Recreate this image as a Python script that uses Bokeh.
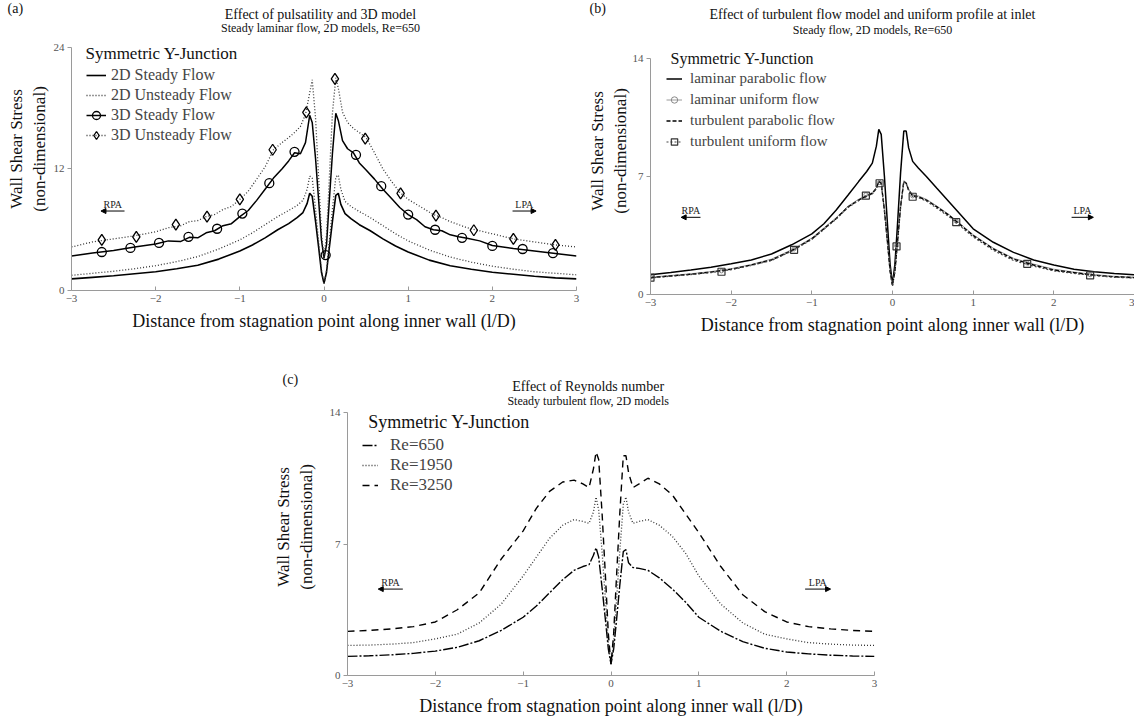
from bokeh.plotting import figure
from bokeh.models import (Range1d, FixedTicker, Legend, LegendItem, Title, Label,
                          Arrow, NormalHead, Spacer)
from bokeh.layouts import row, column
from bokeh.embed import file_html
from bokeh.resources import INLINE

FONT = "Liberation Serif"

# ---------------- data ----------------
x_ticks = [-3, -2, -1, 0, 1, 2, 3]
x_grid = [-3.0, -2.75, -2.5, -2.25, -2.0, -1.75, -1.5, -1.25, -1.0, -0.85, -0.7, -0.55,
          -0.42, -0.32, -0.25, -0.2, -0.17, -0.14, -0.1, -0.06, -0.03, 0.0, 0.03, 0.06,
          0.1, 0.14, 0.17, 0.2, 0.25, 0.32, 0.42, 0.55, 0.7, 0.85, 1.0, 1.25, 1.5, 1.75,
          2.0, 2.25, 2.5, 2.75, 3.0]
x_grid_3d = [-3.0, -2.75, -2.5, -2.25, -2.0, -1.85, -1.7, -1.6, -1.5, -1.4, -1.3, -1.2,
             -1.1, -1.0, -0.9, -0.8, -0.7, -0.6, -0.5, -0.42, -0.35, -0.28, -0.22, -0.17,
             -0.14, -0.1, -0.06, -0.03, 0.0, 0.03, 0.06, 0.1, 0.14, 0.17, 0.22, 0.28, 0.35,
             0.42, 0.5, 0.6, 0.7, 0.8, 0.9, 1.0, 1.1, 1.2, 1.3, 1.4, 1.5, 1.6, 1.7, 1.85,
             2.0, 2.25, 2.5, 2.75, 3.0]

# panel (a)
a_2d_steady = [1.15, 1.3, 1.45, 1.65, 1.85, 2.15, 2.5, 3.1, 3.9, 4.5, 5.2, 6.0,
               6.6, 7.2, 7.7, 8.6, 9.6, 9.3, 6.8, 4.0, 1.8, 0.7, 1.8, 4.0,
               6.8, 9.4, 9.6, 8.5, 7.6, 7.1, 6.5, 5.9, 5.1, 4.4, 3.8, 3.0, 2.45, 2.1,
               1.8, 1.6, 1.4, 1.25, 1.15]
a_2d_unsteady = [1.5, 1.7, 1.9, 2.15, 2.45, 2.85, 3.35, 4.1, 5.0, 5.7, 6.5, 7.3,
                 7.9, 8.4, 8.9, 10.0, 11.3, 11.1, 8.0, 4.5, 2.0, 0.6, 2.0, 4.5,
                 8.0, 11.2, 11.4, 10.0, 8.8, 8.3, 7.8, 7.2, 6.4, 5.6, 4.9, 4.0, 3.3, 2.8,
                 2.4, 2.1, 1.85, 1.7, 1.55]
a_3d_steady = [3.4, 3.7, 3.95, 4.3, 4.6, 4.9, 4.85, 5.25, 5.2, 5.7, 5.9, 6.4,
               6.6, 7.3, 7.9, 8.9, 10.0, 11.1, 12.0, 12.8, 13.6, 13.5, 14.6, 17.3,
               16.6, 13.0, 8.5, 5.0, 3.2, 4.5, 8.5, 13.5, 17.5, 16.8, 14.8, 14.0, 13.6,
               12.6, 11.9, 11.0, 10.0, 9.1, 8.2, 7.5, 7.0, 6.3, 6.0, 5.9, 5.5, 5.3, 5.15, 4.9,
               4.45, 4.15, 3.9, 3.65, 3.4]
a_3d_unsteady = [4.3, 4.8, 5.1, 5.4, 5.8, 6.2, 6.4, 6.8, 6.9, 7.3, 7.5, 8.0,
                 8.3, 9.0, 9.8, 11.0, 12.2, 13.9, 14.6, 15.1, 15.6, 16.2, 17.4, 19.5,
                 20.8, 17.0, 10.5, 5.5, 3.3, 5.5, 10.5, 17.5, 21.0, 20.0, 17.6, 16.6, 16.0,
                 15.6, 15.1, 13.6, 12.0, 10.8, 9.7, 9.0, 8.5, 8.0, 7.5, 7.2, 6.8, 6.5, 6.2, 5.9,
                 5.6, 5.1, 4.8, 4.5, 4.3]
a_3ds_mx = [-2.64, -2.30, -1.96, -1.61, -1.27, -0.97, -0.65, -0.35, 0.02, 0.38, 0.68,
            1.0, 1.32, 1.64, 2.0, 2.36, 2.72]
a_3ds_my = [3.8, 4.2, 4.7, 5.3, 6.1, 7.6, 10.6, 13.7, 3.5, 13.4, 10.3,
            7.5, 6.0, 5.2, 4.4, 4.1, 3.7]
a_3du_mx = [-2.64, -2.23, -1.76, -1.39, -1.0, -0.61, -0.21, 0.13, 0.49, 0.91, 1.33,
            1.78, 2.25, 2.75]
a_3du_my = [5.0, 5.3, 6.5, 7.3, 9.0, 13.9, 17.6, 20.9, 15.0, 9.6, 7.4,
            5.95, 5.1, 4.5]

# panel (b)
b_lam_par = [1.17, 1.3, 1.45, 1.62, 1.82, 2.05, 2.4, 2.95, 3.6, 4.2, 5.0, 5.9,
             6.7, 7.3, 7.8, 8.8, 9.8, 9.5, 7.0, 4.0, 1.8, 0.6, 1.8, 4.0,
             7.2, 9.7, 9.7, 8.7, 7.9, 7.5, 7.0, 6.3, 5.5, 4.7, 3.9, 3.1, 2.5, 2.05,
             1.75, 1.5, 1.35, 1.25, 1.17]
b_lam_uni = [1.03, 1.13, 1.23, 1.36, 1.53, 1.78, 2.1, 2.65, 3.35, 3.95, 4.55, 5.25,
             5.65, 5.9, 6.05, 6.35, 6.75, 6.65, 5.0, 3.0, 1.4, 0.55, 1.4, 3.0,
             5.2, 6.75, 6.65, 6.25, 5.9, 5.85, 5.65, 5.25, 4.75, 4.15, 3.55, 2.75, 2.15, 1.8,
             1.5, 1.33, 1.18, 1.08, 1.03]
b_turb_par = [1.0, 1.1, 1.2, 1.33, 1.5, 1.75, 2.05, 2.6, 3.3, 3.9, 4.5, 5.2,
              5.6, 5.85, 6.0, 6.3, 6.7, 6.6, 5.0, 3.0, 1.4, 0.55, 1.4, 3.0,
              5.2, 6.7, 6.6, 6.2, 5.85, 5.8, 5.6, 5.2, 4.7, 4.1, 3.5, 2.7, 2.1, 1.75,
              1.45, 1.3, 1.15, 1.05, 1.0]
b_turb_uni = [0.98, 1.08, 1.18, 1.3, 1.47, 1.72, 2.02, 2.57, 3.27, 3.87, 4.47, 5.17,
              5.57, 5.82, 5.97, 6.27, 6.67, 6.57, 4.95, 2.95, 1.35, 0.5, 1.35, 2.95,
              5.15, 6.67, 6.57, 6.17, 5.82, 5.75, 5.55, 5.12, 4.62, 4.02, 3.42, 2.62, 2.02, 1.68,
              1.4, 1.25, 1.12, 1.02, 0.98]
b_mk_x = [-3.0, -2.12, -1.22, -0.33, -0.16, 0.05, 0.25, 0.79, 1.67, 2.45]
b_sq_y = [1.0, 1.35, 2.65, 5.87, 6.6, 2.85, 5.8, 4.29, 1.82, 1.13]
b_ci_y = [1.03, 1.4, 2.7, 5.92, 6.65, 2.9, 5.85, 4.35, 1.87, 1.17]

# panel (c)
c_re650 = [1.02, 1.05, 1.1, 1.18, 1.3, 1.5, 1.85, 2.4, 3.1, 3.7, 4.4, 5.1,
           5.6, 5.8, 5.9, 6.4, 6.8, 6.3, 4.6, 2.8, 1.4, 0.6, 1.4, 2.8,
           4.8, 6.6, 6.7, 6.0, 5.75, 5.7, 5.6, 5.2, 4.6, 3.9, 3.1, 2.35, 1.8, 1.45,
           1.25, 1.15, 1.08, 1.04, 1.02]
c_re1950 = [1.6, 1.62, 1.67, 1.75, 1.95, 2.2, 2.8, 3.8, 5.3, 6.3, 7.3, 8.0,
            8.3, 8.2, 8.1, 8.7, 9.5, 8.8, 6.5, 3.8, 1.7, 0.6, 1.7, 3.8,
            6.6, 9.1, 9.5, 8.7, 8.1, 8.2, 8.3, 8.0, 7.4, 6.5, 5.3, 3.8, 2.8, 2.2,
            1.95, 1.75, 1.67, 1.62, 1.6]
c_re3250 = [2.35, 2.4, 2.48, 2.6, 2.85, 3.5, 4.4, 6.2, 7.7, 8.9, 9.8, 10.3,
            10.4, 10.2, 10.0, 11.0, 11.9, 11.5, 8.5, 5.0, 2.2, 0.6, 2.2, 5.0,
            8.6, 11.7, 11.7, 10.8, 10.0, 10.2, 10.5, 10.2, 9.6, 8.6, 7.6, 5.8, 4.3, 3.4,
            2.85, 2.6, 2.48, 2.4, 2.35]

XLABEL = "Distance from stagnation point along inner wall (l/D)"
YLABEL = "Wall Shear Stress\n(non-dimensional)"
LEG_TITLE = "Symmetric Y-Junction"


def make_panel(width, height, bl, br, bt, bb, ytop, ymax, yticks, ylab_standoff):
    p = figure(width=width, height=height, output_backend="svg", toolbar_location=None,
               x_range=Range1d(-3, 3), y_range=Range1d(0, ytop), title=None,
               min_border_left=bl, min_border_right=br, min_border_top=bt,
               min_border_bottom=bb, background_fill_color="white",
               border_fill_color="white")
    if "frame_align" in type(p).properties():
        p.frame_align = False
    p.outline_line_color = None
    p.xgrid.visible = False
    p.ygrid.visible = False
    p.xaxis.ticker = FixedTicker(ticks=x_ticks)
    p.yaxis.ticker = FixedTicker(ticks=yticks)
    p.yaxis.bounds = (0, ymax)
    for ax in p.axis:
        ax.axis_line_color = "#9a9a9a"
        ax.major_tick_line_color = "#9a9a9a"
        ax.minor_tick_line_color = None
        ax.major_label_text_font = FONT
        ax.major_label_text_font_size = "11px"
        ax.major_label_text_color = "#555555"
        ax.axis_label_text_font = FONT
        ax.axis_label_text_font_size = "18px"
        ax.axis_label_text_font_style = "normal"
        ax.axis_label_text_color = "#111111"
    p.xaxis.major_tick_in = 4
    p.xaxis.major_tick_out = 0
    p.xaxis.major_label_standoff = 4
    p.xaxis.axis_label_standoff = 6
    p.yaxis.major_tick_in = 0
    p.yaxis.major_tick_out = 4
    p.yaxis.major_label_standoff = 3
    p.yaxis.axis_label_standoff = ylab_standoff
    p.yaxis.axis_label_text_font_size = "17px"
    p.xaxis.axis_label = XLABEL
    p.yaxis.axis_label = YLABEL
    return p


def add_titles(p, x, y_main, y_sub, main, sub):
    p.add_layout(Label(x=x, y=y_main, text=main, text_font=FONT, text_font_size="14px",
                       text_align="center", text_baseline="middle", text_color="#111111"))
    p.add_layout(Label(x=x, y=y_sub, text=sub, text_font=FONT, text_font_size="12px",
                       text_align="center", text_baseline="middle", text_color="#111111"))


def add_letter(p, txt, offset):
    p.add_layout(Title(text=txt, align="left", offset=offset, vertical_align="bottom",
                       standoff=-17, text_font=FONT, text_font_size="14px",
                       text_font_style="normal", text_color="#111111"), "above")


def add_side_arrows(p, y_text, y_arrow, rpa, lpa):
    for (x0, x1), txt in ((rpa, "RPA"), (lpa, "LPA")):
        p.add_layout(Label(x=(x0 + x1) / 2, y=y_text, text=txt, text_font=FONT,
                           text_font_size="10px", text_align="center",
                           text_baseline="middle", text_color="#222222"))
    p.add_layout(Arrow(end=NormalHead(size=5, fill_color="black", line_color="black"),
                       x_start=rpa[1], y_start=y_arrow, x_end=rpa[0], y_end=y_arrow,
                       line_width=1, line_color="black"))
    p.add_layout(Arrow(end=NormalHead(size=5, fill_color="black", line_color="black"),
                       x_start=lpa[0], y_start=y_arrow, x_end=lpa[1], y_end=y_arrow,
                       line_width=1, line_color="black"))


def add_legend(p, items, title_xy, title_size, label_size, row_h, glyph_w, standoff, loc):
    p.add_layout(Label(x=title_xy[0], y=title_xy[1], text=LEG_TITLE, text_font=FONT,
                       text_font_size=title_size, text_baseline="middle",
                       text_color="#111111"))
    p.add_layout(Legend(items=items, location=loc, border_line_color=None,
                        background_fill_alpha=0.0, label_text_font=FONT,
                        label_text_font_size=label_size, glyph_width=glyph_w,
                        glyph_height=row_h, label_height=row_h, label_standoff=standoff,
                        spacing=0, padding=0, margin=0))


# ---------------- panel (a) ----------------
pa = make_panel(584, 340, 71, 8, 7, 50, 27.95, 24, [0, 12, 24], 2)
r1 = pa.line(x_grid, a_2d_steady, line_color="black", line_width=1.6)
r2 = pa.line(x_grid, a_2d_unsteady, line_color="#333333", line_width=1.3, line_dash="1 2")
r3 = pa.line(x_grid_3d, a_3d_steady, line_color="black", line_width=1.5)
r3m = pa.scatter(a_3ds_mx, a_3ds_my, marker="circle", size=9, fill_color=None,
                 line_color="black", line_width=1.3)
r4 = pa.line(x_grid_3d, a_3d_unsteady, line_color="#333333", line_width=1.3, line_dash="1 2")
r4m = pa.scatter(a_3du_mx, a_3du_my, marker="diamond", size=11, fill_color=None,
                 line_color="black", line_width=1.3)
add_legend(pa, [
    LegendItem(label="2D Steady Flow", renderers=[r1]),
    LegendItem(label="2D Unsteady Flow", renderers=[r2]),
    LegendItem(label="3D Steady Flow", renderers=[r3, r3m]),
    LegendItem(label="3D Unsteady Flow", renderers=[r4, r4m]),
], (-2.834, 23.4), "17px", "16px", 20, 20, 5, (15, 145))
add_titles(pa, -0.042, 27.26, 25.88, "Effect of pulsatility and 3D model",
           "Steady laminar flow, 2D models, Re=650")
add_side_arrows(pa, 8.5, 7.85, (-2.65, -2.37), (2.24, 2.52))
add_letter(pa, "(a)", -64)

# ---------------- panel (b) ----------------
pb = make_panel(550, 340, 66, 0, 7, 46, 17.03, 14, [0, 7, 14], 0)
s1 = pb.line(x_grid, b_lam_par, line_color="black", line_width=1.5)
s2 = pb.line(x_grid, b_lam_uni, line_color="#9a9a9a", line_width=1.0)
s2m = pb.scatter(b_mk_x, b_ci_y, marker="circle", size=4, fill_color=None,
                 line_color="#8a8a8a", line_width=1)
s3 = pb.line(x_grid, b_turb_par, line_color="black", line_width=1.4, line_dash="4 2")
s4 = pb.line(x_grid, b_turb_uni, line_color="#444444", line_width=1.2, line_dash="2 2")
s4m = pb.scatter(b_mk_x, b_sq_y, marker="square", size=7, fill_color=None,
                 line_color="#333333", line_width=1.2)
add_legend(pb, [
    LegendItem(label="laminar parabolic flow", renderers=[s1]),
    LegendItem(label="laminar uniform flow", renderers=[s2, s2m]),
    LegendItem(label="turbulent parabolic flow", renderers=[s3]),
    LegendItem(label="turbulent uniform flow", renderers=[s4, s4m]),
], (-2.752, 14.0), "16px", "15px", 21, 16, 8, (16, 142))
add_titles(pb, -0.248, 16.61, 15.72,
           "Effect of turbulent flow model and uniform profile at inlet",
           "Steady flow, 2D models, Re=650")
add_side_arrows(pb, 5.0, 4.58, (-2.62, -2.38), (2.22, 2.49))
add_letter(pb, "(b)", -61)

# ---------------- panel (c) ----------------
pc = make_panel(624, 382, 72, 20, 38, 47, 15.81, 14, [0, 7, 14], 11)
t1 = pc.line(x_grid, c_re650, line_color="black", line_width=1.4, line_dash="10 2 2 2")
t2 = pc.line(x_grid, c_re1950, line_color="#333333", line_width=1.3, line_dash="1 2")
t3 = pc.line(x_grid, c_re3250, line_color="black", line_width=1.4, line_dash="7 5")
add_legend(pc, [
    LegendItem(label="Re=650", renderers=[t1]),
    LegendItem(label="Re=1950", renderers=[t2]),
    LegendItem(label="Re=3250", renderers=[t3]),
], (-2.763, 13.47), "18px", "17px", 20, 16, 12, (15, 180))
add_titles(pc, -0.26, 15.38, 14.59, "Effect of Reynolds number",
           "Steady turbulent flow, 2D models")
add_side_arrows(pc, 4.95, 4.6, (-2.65, -2.37), (2.21, 2.5))
add_letter(pc, "(c)", -65)

layout = column(row(pa, pb), row(Spacer(width=270, height=382), pc))
open("out.html", "w").write(file_html(layout, INLINE))
